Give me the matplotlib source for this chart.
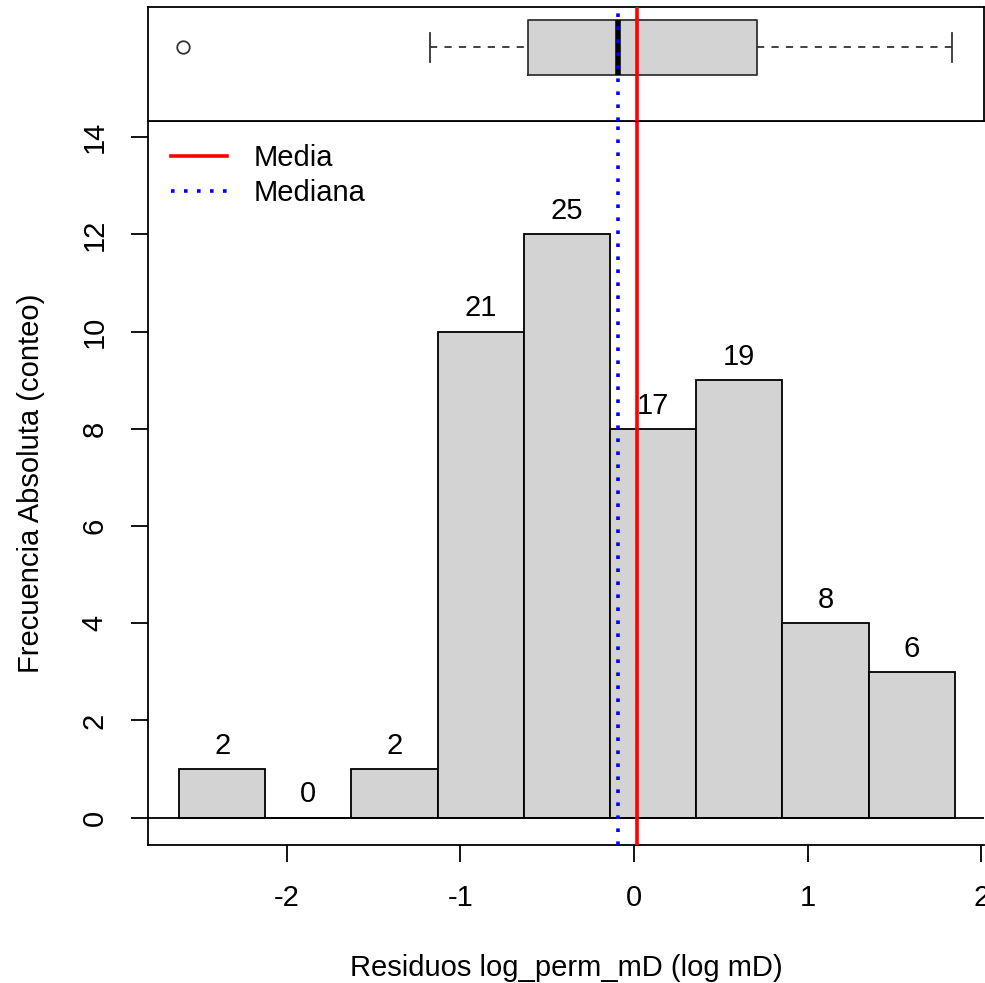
import matplotlib
matplotlib.use("Agg")
import matplotlib.pyplot as plt
from matplotlib.lines import Line2D

plt.rcParams['font.family'] = ['Liberation Sans', 'DejaVu Sans']

# ---- data ----
bin_edges = [-2.621, -2.124, -1.630, -1.132, -0.636, -0.138, 0.357, 0.855, 1.352, 1.849]
bar_heights = [1, 0, 1, 10, 12, 8, 9, 4, 3]
bar_labels = ["2", "0", "2", "21", "25", "17", "19", "8", "6"]

box_q1 = -0.611
box_median = -0.092
box_q3 = 0.709
whisker_low = -1.175
whisker_high = 1.832
outliers = [-2.598]
mean_value = 0.017

x_ticks = [-2, -1, 0, 1, 2]
y_ticks = [0, 2, 4, 6, 8, 10, 12, 14]

xlabel = "Residuos log_perm_mD (log mD)"
ylabel = "Frecuencia Absoluta (conteo)"
legend_labels = ["Media", "Mediana"]

# ---- figure ----
W, H = 985, 983
fig = plt.figure(figsize=(W / 100, H / 100), dpi=100)
FS = 21
LW = 1.3
GRAY = "#D3D3D3"
DOT = (0, (1, 2.6))

left = 148 / W
width = 836 / W
ax = fig.add_axes([left, 1 - 845 / H, width, 724 / H])
axb = fig.add_axes([left, 1 - 121 / H, width, 114 / H])

xlim = (-2.80, 2.016)
ax.set_xlim(*xlim)
axb.set_xlim(*xlim)
ax.set_ylim(-0.562, 14.335)

# histogram bars
lefts = bin_edges[:-1]
widths = [b - a for a, b in zip(bin_edges[:-1], bin_edges[1:])]
centers = [a + w / 2 for a, w in zip(lefts, widths)]
ax.bar(lefts, bar_heights, width=widths, align='edge', color=GRAY,
       edgecolor='black', linewidth=LW, zorder=2)
for c, h, lab in zip(centers, bar_heights, bar_labels):
    ax.annotate(lab, (c, h), xytext=(0, 11), textcoords='offset points',
                ha='center', va='baseline', fontsize=FS, color='black', zorder=5)

ax.axhline(0, color='black', linewidth=LW, zorder=3)
ax.axvline(mean_value, color='red', linewidth=2.6, zorder=4)
ax.axvline(box_median, color='blue', linewidth=2.6, linestyle=DOT, zorder=4)

ax.set_xticks(x_ticks)
ax.set_xticklabels([str(t) for t in x_ticks])
ax.set_yticks(y_ticks)
ax.set_yticklabels([str(t) for t in y_ticks], rotation=90, va='center')
ax.tick_params(axis='both', direction='out', length=12.3, width=LW,
               labelsize=FS, color='black')
ax.tick_params(axis='x', pad=16)
ax.tick_params(axis='y', pad=16)
for s in ax.spines.values():
    s.set_linewidth(LW)
    s.set_color('black')
ax.spines['right'].set_visible(False)

ax.set_xlabel(xlabel, fontsize=FS, labelpad=30)
ax.set_ylabel(ylabel, fontsize=FS, labelpad=26)

handles = [Line2D([], [], color='red', linewidth=2.6),
           Line2D([], [], color='blue', linewidth=2.6, linestyle=DOT)]
ax.legend(handles, legend_labels, loc='upper left', frameon=False,
          fontsize=FS, handlelength=1.93, handletextpad=0.9,
          labelspacing=0.25, borderpad=0, borderaxespad=0,
          bbox_to_anchor=((171 - 148) / 836, (845 - 144) / 724))

# boxplot panel
axb.set_ylim(0, 1)
yc = 0.645
bh = 0.241
ch = 0.13
axb.fill_between([box_q1, box_q3], yc - bh, yc + bh, facecolor=GRAY,
                 edgecolor='none', zorder=1)
axb.plot([box_q1, box_q3, box_q3, box_q1, box_q1],
         [yc - bh, yc - bh, yc + bh, yc + bh, yc - bh],
         color='#333333', linewidth=LW, zorder=2)
axb.plot([box_median, box_median], [yc - bh, yc + bh], color='black',
         linewidth=4.0, solid_capstyle='butt', zorder=3)
axb.plot([whisker_low, box_q1], [yc, yc], color='#333333', linewidth=LW,
         linestyle=(0, (4, 4)), zorder=2)
axb.plot([box_q3, whisker_high], [yc, yc], color='#333333', linewidth=LW,
         linestyle=(0, (4, 4)), zorder=2)
axb.plot([whisker_low, whisker_low], [yc - ch, yc + ch], color='#333333', linewidth=LW)
axb.plot([whisker_high, whisker_high], [yc - ch, yc + ch], color='#333333', linewidth=LW)
axb.plot(outliers, [yc] * len(outliers), linestyle='none', marker='o',
         markersize=9, markerfacecolor='none', markeredgecolor='#333333',
         markeredgewidth=LW)
axb.axvline(mean_value, color='red', linewidth=2.6, zorder=4)
axb.axvline(box_median, color='blue', linewidth=2.6, linestyle=DOT, zorder=4)
axb.set_xticks([])
axb.set_yticks([])
for s in axb.spines.values():
    s.set_linewidth(LW)
    s.set_color('black')

fig.savefig("out.png", dpi=100)
